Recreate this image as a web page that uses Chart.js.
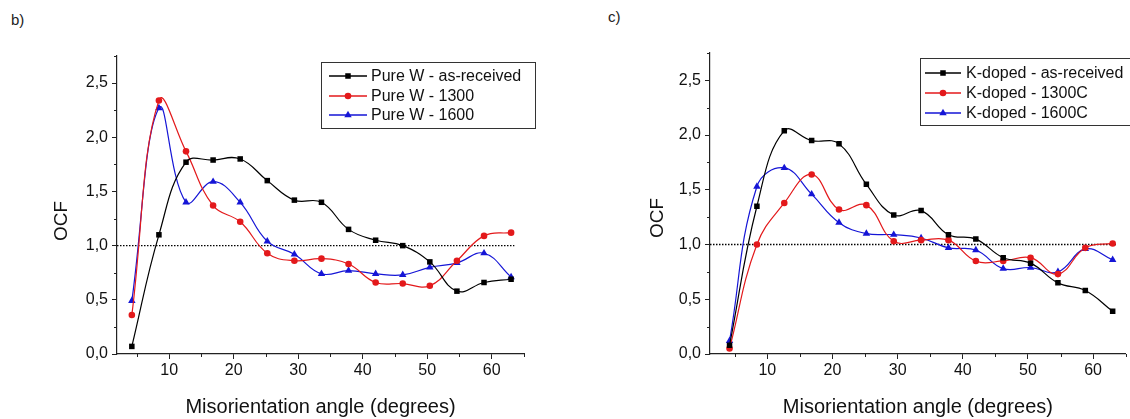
<!DOCTYPE html>
<html>
<head>
<meta charset="utf-8">
<script src="https://cdn.jsdelivr.net/npm/chart.js@4.4.1/dist/chart.umd.min.js"></script>
<style>
  body { margin: 0; background: #fff; width: 1130px; height: 419px; overflow: hidden; position: relative;
         font-family: "Liberation Sans", Arial, sans-serif; }
  canvas { position: absolute; top: 0; }
  #chartB { left: 0; }
  #chartC { left: 560px; }
  .tag { position: absolute; font-size: 15px; color: #222; }
</style>
</head>
<body>
<div class="tag" style="left:11px;top:11px">b)</div>
<div class="tag" style="left:608px;top:8px">c)</div>
<canvas id="chartB" width="560" height="419"></canvas>
<canvas id="chartC" width="570" height="419"></canvas>
<script>
// misorientation angle bins (degrees)
const angles = [4.2, 8.4, 12.6, 16.8, 21.0, 25.2, 29.4, 33.6, 37.8, 42.0, 46.2, 50.4, 54.6, 58.8, 63.0];

// panel b) pure W
const pureLabels = ['Pure W - as-received', 'Pure W - 1300', 'Pure W - 1600'];
const pureAsReceived = [0.07, 1.10, 1.77, 1.79, 1.80, 1.60, 1.42, 1.40, 1.15, 1.05, 1.00, 0.85, 0.58, 0.66, 0.69];
const pure1300 = [0.36, 2.34, 1.87, 1.37, 1.22, 0.93, 0.86, 0.88, 0.83, 0.66, 0.65, 0.63, 0.86, 1.09, 1.12];
const pure1600 = [0.49, 2.27, 1.40, 1.59, 1.40, 1.04, 0.92, 0.74, 0.77, 0.74, 0.73, 0.80, 0.84, 0.93, 0.71];

// panel c) K-doped W
const kLabels = ['K-doped - as-received', 'K-doped - 1300C', 'K-doped - 1600C'];
const kAsReceived = [0.08, 1.35, 2.04, 1.95, 1.92, 1.55, 1.27, 1.31, 1.09, 1.05, 0.88, 0.83, 0.65, 0.58, 0.39];
const k1300 = [0.05, 1.00, 1.38, 1.64, 1.32, 1.36, 1.03, 1.04, 1.04, 0.85, 0.85, 0.88, 0.73, 0.97, 1.01];
const k1600 = [0.12, 1.53, 1.70, 1.46, 1.20, 1.10, 1.09, 1.06, 0.97, 0.95, 0.78, 0.79, 0.75, 0.96, 0.86];

// random-distribution reference level
const refLevel = 1.0;
const refEnd = 63.5;

const FONT = '"Liberation Sans", Arial, sans-serif';
const styles = [
  { color: '#000000', pointStyle: 'rect', radius: 3.9 },
  { color: '#e3191b', pointStyle: 'circle', radius: 3.3 },
  { color: '#1515d6', pointStyle: 'triangle', radius: 4.3 }
];

// short outward minor ticks (Origin style)
const minorTicks = {
  id: 'minorTicks',
  afterDraw(chart) {
    const ctx = chart.ctx;
    const xs = chart.scales.x, ys = chart.scales.y;
    ctx.save();
    ctx.strokeStyle = '#222';
    ctx.lineWidth = 1;
    ctx.beginPath();
    for (let v = 5; v <= xs.max; v += 10) {
      const px = Math.round(xs.getPixelForValue(v)) + 0.5;
      ctx.moveTo(px, xs.top);
      ctx.lineTo(px, xs.top + 3);
    }
    for (let v = 0.25; v <= ys.max; v += 0.5) {
      const py = Math.round(ys.getPixelForValue(v)) + 0.5;
      ctx.moveTo(ys.right, py);
      ctx.lineTo(ys.right - 3, py);
    }
    ctx.stroke();
    ctx.restore();
  }
};

// rotated y axis title, placed like Origin does (a bit below the middle)
const yTitle = {
  id: 'yTitle',
  afterDraw(chart, args, opts) {
    const ctx = chart.ctx;
    ctx.save();
    ctx.translate(opts.x, opts.y);
    ctx.rotate(-Math.PI / 2);
    ctx.font = '19px ' + FONT;
    ctx.fillStyle = '#111';
    ctx.textAlign = 'center';
    ctx.textBaseline = 'middle';
    ctx.fillText(opts.text, 0, 0);
    ctx.restore();
  }
};

// boxed legend with line + marker samples
const boxLegend = {
  id: 'boxLegend',
  afterDraw(chart, args, opts) {
    const ctx = chart.ctx;
    ctx.save();
    ctx.strokeStyle = '#333';
    ctx.lineWidth = 1;
    ctx.strokeRect(opts.x + 0.5, opts.y + 0.5, opts.w, opts.h);
    ctx.font = '16px ' + FONT;
    ctx.textBaseline = 'middle';
    opts.labels.forEach((label, i) => {
      const st = styles[i];
      const y = opts.rows[i];
      ctx.strokeStyle = st.color;
      ctx.lineWidth = 1.3;
      ctx.beginPath();
      ctx.moveTo(opts.lineX1, y);
      ctx.lineTo(opts.lineX2, y);
      ctx.stroke();
      ctx.fillStyle = st.color;
      Chart.helpers.drawPoint(ctx, { pointStyle: st.pointStyle, radius: st.radius, rotation: 0, borderWidth: 0 },
        (opts.lineX1 + opts.lineX2) / 2, y);
      ctx.fillStyle = '#111';
      ctx.fillText(label, opts.textX, y + 1);
    });
    ctx.restore();
  }
};

function makeChart(id, labels, series, geo) {
  const datasets = series.map((vals, i) => ({
    label: labels[i],
    data: angles.map((a, j) => ({ x: a, y: vals[j] })),
    borderColor: styles[i].color,
    backgroundColor: styles[i].color,
    borderWidth: 1.2,
    pointStyle: styles[i].pointStyle,
    pointRadius: styles[i].radius,
    pointBorderWidth: 0,
    tension: 0.42
  }));
  datasets.push({
    label: 'ref',
    data: [{ x: geo.xMin, y: refLevel }, { x: refEnd, y: refLevel }],
    borderColor: '#000',
    borderWidth: 1.4,
    borderDash: [1.5, 1.5],
    pointRadius: 0,
    tension: 0
  });

  return new Chart(document.getElementById(id).getContext('2d'), {
    type: 'line',
    data: { datasets },
    options: {
      responsive: false,
      animation: false,
      devicePixelRatio: 1,
      layout: { padding: { left: 0, top: geo.top, right: geo.right, bottom: 0 } },
      plugins: {
        legend: { display: false },
        tooltip: { enabled: false },
        boxLegend: geo.legend,
        yTitle: geo.yTitle
      },
      scales: {
        x: {
          type: 'linear',
          min: geo.xMin,
          max: 65,
          afterBuildTicks: s => { s.ticks = s.ticks.filter(t => t.value % 10 === 0); },
          afterFit: s => { s.height = 65; },
          ticks: { stepSize: 10, padding: 2, color: '#111', font: { family: FONT, size: 16 } },
          grid: { drawOnChartArea: false, tickLength: 5, color: '#222' },
          border: { color: '#222', width: 1.2 },
          title: { display: true, text: 'Misorientation angle (degrees)', color: '#111',
                   font: { family: FONT, size: 20 }, padding: { top: 3, bottom: 0 } }
        },
        y: {
          min: 0,
          max: 2.75,
          afterBuildTicks: s => { s.ticks = s.ticks.filter(t => Math.abs(t.value * 2 - Math.round(t.value * 2)) < 1e-6); },
          afterFit: s => { s.width = geo.left; },
          ticks: { stepSize: 0.5, padding: 4, color: '#111', font: { family: FONT, size: 16 },
                   callback: v => v.toFixed(1).replace('.', ',') },
          grid: { drawOnChartArea: false, tickLength: 5, color: '#222' },
          border: { color: '#222', width: 1.2 }
        }
      }
    },
    plugins: [minorTicks, boxLegend, yTitle]
  });
}

makeChart('chartB', pureLabels, [pureAsReceived, pure1300, pure1600], {
  xMin: 1.9, left: 117, top: 56, right: 36,
  yTitle: { text: 'OCF', x: 62, y: 221 },
  legend: { x: 321, y: 62, w: 214, h: 66, lineX1: 329, lineX2: 367, textX: 371, rows: [76, 96, 115], labels: pureLabels }
});

makeChart('chartC', kLabels, [kAsReceived, k1300, k1600], {
  xMin: 1.2, left: 150, top: 53, right: 4,
  yTitle: { text: 'OCF', x: 98, y: 218 },
  legend: { x: 360, y: 58, w: 210, h: 67, lineX1: 365, lineX2: 401, textX: 406, rows: [73, 93, 113], labels: kLabels }
});
</script>
</body>
</html>
